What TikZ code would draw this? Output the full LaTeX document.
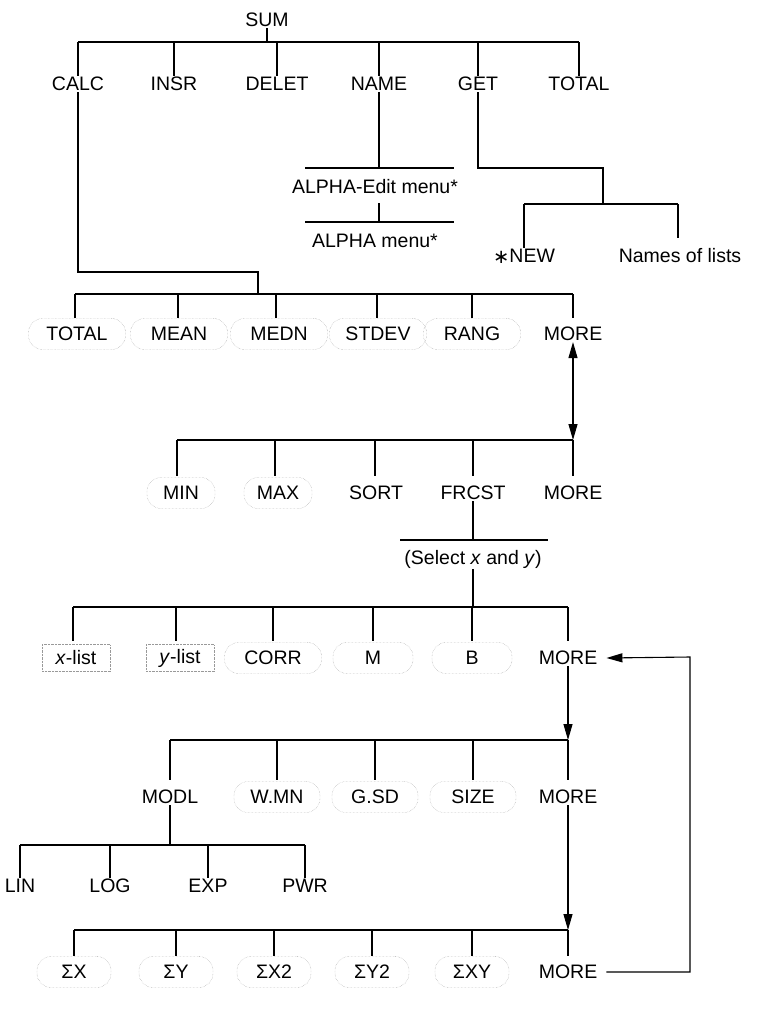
\documentclass[tikz,border=0pt]{standalone}
\usepackage{fontspec}
\setmainfont{Liberation Sans}
\usetikzlibrary{arrows.meta}
\begin{document}
\begin{tikzpicture}[x=1pt,y=-1pt,
  every node/.style={font=\fontsize{19.5}{21}\selectfont, inner sep=1pt},
  key/.style={draw=gray!80, densely dotted, rounded corners=14pt, minimum width=97pt, minimum height=31pt, inner sep=2pt},
  sq/.style={draw=gray!80, densely dotted, minimum width=68pt, minimum height=27pt, inner sep=2pt},
  ln/.style={line width=1.1pt},
  dar/.style={ln, {Triangle[length=16pt,width=9pt]}-{Triangle[length=16pt,width=9pt]}},
  ar/.style={ln, -{Triangle[length=16pt,width=9pt]}}]
\useasboundingbox (0,0) rectangle (759,1017);
% top
\node (sum) at (267,20) {SUM};
\foreach \n/\x/\l in {calc/78/CALC, insr/174/INSR, delet/277/DELET, name/379/NAME, get/478/GET, total/579/TOTAL}
  \node (\n) at (\x,84) {\l};
\draw[ln] (sum.south) -- (267,42);
\draw[ln] (78,42) -- (579,42);
\foreach \n/\x in {calc/78, insr/174, delet/277, name/379, get/478, total/579}
  \draw[ln] (\x,42) -- (\n.north);
% NAME branch
\node (ae) at (375,187) {ALPHA-Edit menu*};
\node (am) at (375,241) {ALPHA menu*};
\draw[ln] (name.south) -- (379,168);
\draw[ln] (305,168) -- (454,168);
\draw[ln] (379,203) -- (379,222);
\draw[ln] (305,222) -- (454,222);
% GET branch
\node (new) at (524,256) {\fontspec{DejaVu Sans}\raisebox{-1pt}{\char"2217}\fontspec{Liberation Sans}NEW};
\node (nol) at (680,256) {Names of lists};
\draw[ln] (get.south) -- (478,168) -- (603,168) -- (603,204);
\draw[ln] (524,204) -- (678,204);
\draw[ln] (524,204) -- (new.north);
\draw[ln] (678,204) -- (678,238);
% CALC row
\draw[ln] (calc.south) -- (78,272) -- (258,272) -- (258,294);
\draw[ln] (75,294) -- (573,294);
\foreach \n/\x/\l in {c1/77/TOTAL, c2/179/MEAN, c3/279/MEDN, c4/378/STDEV, c5/472/RANG}
  {\node[key] (\n) at (\x,334) {\l};}
\node (c6) at (573,334) {MORE};
\foreach \x in {75,178,276,377,472,573}
  \draw[ln] (\x,294) -- (\x,318);
\draw[dar] (c6.south) -- (573,440);
% second row
\draw[ln] (177,440) -- (573,440);
\node[key,minimum width=68pt] (d1) at (181,493) {MIN};
\node[key,minimum width=68pt] (d2) at (278,493) {MAX};
\node (d3) at (376,493) {SORT};
\node (d4) at (473,493) {FRCST};
\node (d5) at (573,493) {MORE};
\foreach \x in {177,275,375,473,573}
  \draw[ln] (\x,440) -- (\x,476);
\draw[ln] (d4.south) -- (473,540);
\draw[ln] (400,540) -- (548,540);
\node (sel) at (473,559) {(Select \textit{x} and \textit{y})};
% third row
\draw[ln] (sel.south) -- (473,607);
\draw[ln] (73,607) -- (568,607);
\node[sq] (e1) at (76,658) {\textit{x}-list};
\node[sq] (e2) at (180,658) {\textit{y}-list};
\node[key] (e3) at (273,658) {CORR};
\node[key,minimum width=80pt] (e4) at (373,658) {M};
\node[key,minimum width=80pt] (e5) at (472,658) {B};
\node (e6) at (568,658) {MORE};
\foreach \x in {73,176,273,373,472,568}
  \draw[ln] (\x,607) -- (\x,641);
% fourth row
\draw[ar] (e6.south) -- (568,740);
\draw[ln] (170,740) -- (568,740);
\node (f1) at (170,797) {MODL};
\node[key,minimum width=86pt] (f2) at (277,797) {W.MN};
\node[key,minimum width=86pt] (f3) at (375,797) {G.SD};
\node[key,minimum width=86pt] (f4) at (473,797) {SIZE};
\node (f5) at (568,797) {MORE};
\foreach \x in {170,277,375,473,568}
  \draw[ln] (\x,740) -- (\x,780);
% MODL branch
\draw[ln] (f1.south) -- (170,845);
\draw[ln] (20,845) -- (305,845);
\foreach \n/\x/\l in {g1/20/LIN, g2/110/LOG, g3/208/EXP, g4/305/PWR}
  {\node (\n) at (\x,886) {\l}; \draw[ln] (\x,845) -- (\n.north);}
% fifth row
\draw[ar] (f5.south) -- (568,930);
\draw[ln] (74,930) -- (568,930);
\foreach \n/\x/\l in {h1/74/ΣX, h2/176/ΣY, h3/274/ΣX2, h4/372/ΣY2, h5/472/ΣXY}
  {\node[key,minimum width=74pt] (\n) at (\x,972) {\l};}
\node (h6) at (568,972) {MORE};
\foreach \x in {74,176,274,372,472,568}
  \draw[ln] (\x,930) -- (\x,956);
\coordinate (r1) at (690,972);
\coordinate (r2) at (690,657);
\draw[ar] ([xshift=8pt]h6.east) -- (r1) -- (r2) -- ([xshift=8pt]e6.east);
\end{tikzpicture}
\end{document}
